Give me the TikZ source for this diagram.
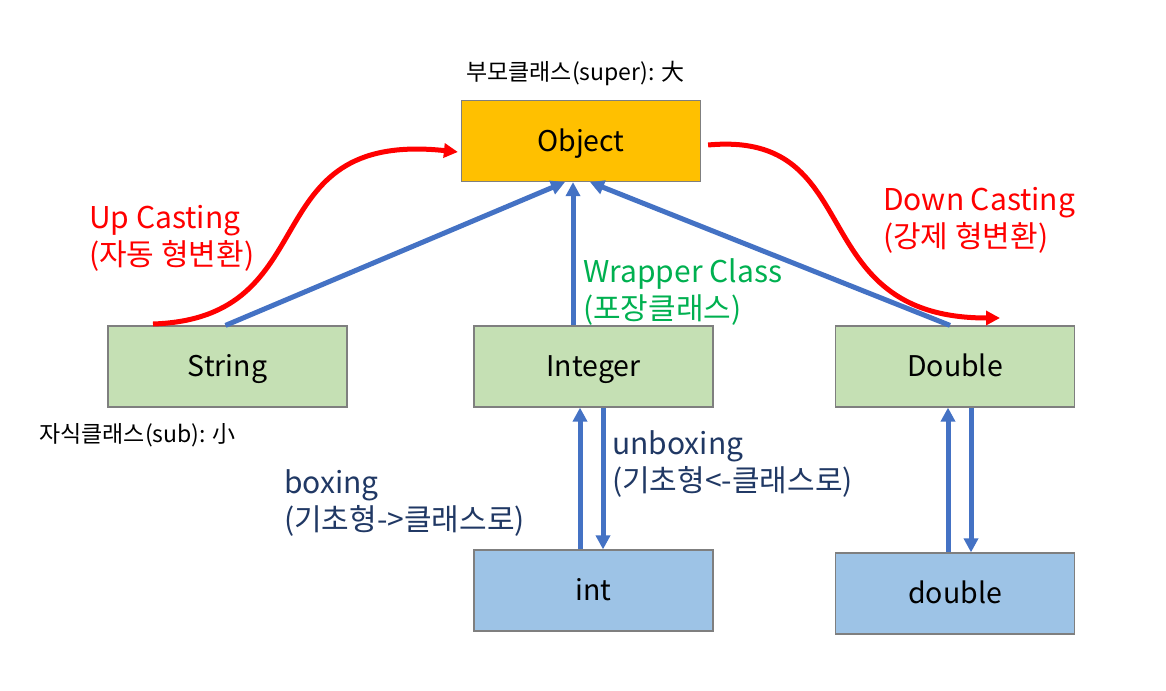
\documentclass[tikz,border=0pt]{standalone}
\usepackage{fontspec}
\setmainfont{Noto Sans CJK KR}
\usetikzlibrary{arrows.meta}
\definecolor{orangebox}{HTML}{FFC000}
\definecolor{greenbox}{HTML}{C5E0B4}
\definecolor{bluebox}{HTML}{9DC3E6}
\definecolor{arrowblue}{HTML}{4472C4}
\definecolor{txtgreen}{HTML}{00B050}
\definecolor{txtnavy}{HTML}{203864}
\definecolor{boxline}{HTML}{7F7F7F}
\begin{document}
\begin{tikzpicture}[x=1pt,y=-1pt,
  box/.style={draw=boxline,line width=1.2pt,minimum width=239pt,minimum height=81pt,inner sep=0pt,text height=30pt,text depth=10pt,font=\fontsize{28.5}{32}\selectfont},
  blue arrow/.style={draw=arrowblue,line width=5pt,-{Triangle[length=14pt,width=14pt]}},
  red arrow/.style={draw=red,line width=5pt,-{Triangle[length=14pt,width=14pt]}},
  lbl/.style={font=\fontsize{30}{37}\selectfont,align=left,anchor=west,inner sep=0pt},
  small/.style={font=\fontsize{23}{26}\selectfont,anchor=west,inner sep=0pt}]
\useasboundingbox (0,0) rectangle (1166,690);
\node[box,fill=orangebox] (obj) at (581,141) {Object};
\node[box,fill=greenbox] (str) at (227.5,366.5) {String};
\node[box,fill=greenbox] (intg) at (593.5,366.5) {Integer};
\node[box,fill=greenbox] (dbl) at (955,366.5) {Double};
\node[box,fill=bluebox] (prim) at (593.5,590.5) {int};
\node[box,fill=bluebox] (pdbl) at (955,593.5) {double};
% labels
\node[small] (lsuper) at (466,73) {부모클래스(super): 大};
\node[small] (lsub) at (39,435) {자식클래스(sub): 小};
\node[lbl,text=red] (lup) at (89,238) {Up Casting\\(자동 형변환)};
\node[lbl,text=red] (ldown) at (883,220) {Down Casting\\(강제 형변환)};
\node[lbl,text=txtgreen] (lwrap) at (583,292) {Wrapper Class\\(포장클래스)};
\node[lbl,text=txtnavy] (lbox) at (284,503) {boxing\\(기초형->클래스로)};
\node[lbl,text=txtnavy] (lunbox) at (612,464) {unboxing\\(기초형<-클래스로)};
% blue arrows to Object
\draw[blue arrow] ([xshift=-2pt]str.north) -- ([xshift=-16pt]obj.south);
\draw[blue arrow] ([xshift=-20.5pt]intg.north) -- ([xshift=-8pt]obj.south);
\draw[blue arrow] ([xshift=-5pt]dbl.north) -- ([xshift=9pt]obj.south);
% boxing / unboxing
\draw[blue arrow] ([xshift=-13.5pt]prim.north) -- ([xshift=-13.5pt]intg.south);
\draw[blue arrow] ([xshift=9.5pt]intg.south) -- ([xshift=9.5pt]prim.north);
\draw[blue arrow] ([xshift=-7pt]pdbl.north) -- ([xshift=-7pt]dbl.south);
\draw[blue arrow] ([xshift=16pt]dbl.south) -- ([xshift=16pt]pdbl.north);
% red casting arrows
\coordinate (upstart) at (153,324);
\coordinate (downend) at (1000,318);
\draw[red arrow] (upstart) .. controls (330,318) and (250,130) .. ([yshift=-11pt,xshift=-3pt]obj.west);
\draw[red arrow] ([yshift=-4pt,xshift=7pt]obj.east) .. controls (870,130) and (800,318) .. (downend);
\end{tikzpicture}
\end{document}
